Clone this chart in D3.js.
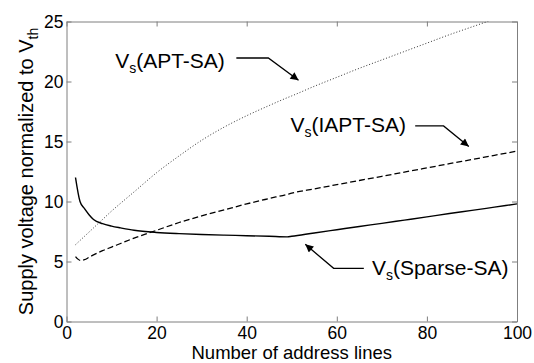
<!DOCTYPE html>
<html>
<head>
<meta charset="utf-8">
<script src="https://cdn.jsdelivr.net/npm/d3@7"></script>
<style>
  body { margin: 0; background: #fff; }
  svg { display: block; font-family: "Liberation Sans", Arial, sans-serif; }
</style>
</head>
<body>
<div id="chart"></div>
<script>
// number of address lines (x) and the three supply voltage curves
var addrLines = [2, 3, 4, 5, 6, 8, 10, 12, 15, 20, 25, 30, 35, 40, 45, 49, 50, 55, 60, 65, 70, 75, 80, 85, 90, 95, 100]
var vsAPT     = [6.4, 6.75, 7.1, 7.45, 7.8, 8.5, 9.2, 9.85, 10.8, 12.4, 13.8, 15.1, 16.2, 17.15, 18.0, 18.65, 18.8, 19.6, 20.35, 21.1, 21.8, 22.5, 23.2, 23.9, 24.55, 25.2, 25.85]
var vsIAPT    = [5.4, 5.1, 5.15, 5.35, 5.55, 5.9, 6.2, 6.5, 6.95, 7.6, 8.25, 8.8, 9.3, 9.8, 10.25, 10.6, 10.7, 11.05, 11.4, 11.75, 12.1, 12.45, 12.8, 13.15, 13.5, 13.85, 14.2]
var vsSparse  = [12.0, 10.0, 9.4, 8.9, 8.5, 8.15, 7.95, 7.8, 7.6, 7.42, 7.32, 7.25, 7.2, 7.15, 7.1, 7.05, 7.1, 7.38, 7.65, 7.92, 8.18, 8.45, 8.72, 9.0, 9.26, 9.53, 9.8]

var xTicks = [0, 20, 40, 60, 80, 100]
var yTicks = [0, 5, 10, 15, 20, 25]

// annotation text + arrow path, in data units
var labelNames = ["APT-SA", "IAPT-SA", "Sparse-SA"]
var labelAt    = [[10.8, 21.1], [49.7, 15.8], [67.8, 3.88]]
var arrowPts   = [
    [[37.7, 21.96], [44.8, 21.96], [51.5, 20.1]],
    [[77.4, 16.3], [83.7, 16.3], [89.3, 14.58]],
    [[66.0, 4.43], [59.3, 4.43], [53.0, 6.43]]
]

var W = 534, H = 363
var margin = {top: 21.5, right: 17, bottom: 41.5, left: 66.5}

var svg = d3.select("#chart")
    .append("svg")
    .attr("width", W)
    .attr("height", H)

var x = d3.scaleLinear()
    .domain([0, 100])
    .range([margin.left, W - margin.right])

var y = d3.scaleLinear()
    .domain([0, 25])
    .range([H - margin.bottom, margin.top])

svg.append("defs").append("clipPath")
    .attr("id", "plotclip")
    .append("rect")
    .attr("x", x(0))
    .attr("y", y(25))
    .attr("width", x(100) - x(0))
    .attr("height", y(0) - y(25))

svg.append("defs").append("marker")
    .attr("id", "arrowhead")
    .attr("viewBox", "0 0 10 10")
    .attr("refX", 10)
    .attr("refY", 5)
    .attr("markerWidth", 10)
    .attr("markerHeight", 8)
    .attr("markerUnits", "userSpaceOnUse")
    .attr("orient", "auto")
    .append("path")
    .attr("d", "M0,0 L10,5 L0,10 Z")
    .attr("fill", "black")

// axes: ticks point inward, box on all four sides
var axisColor = "#7f7f7f"

function styleAxis(g) {
    g.selectAll(".domain").attr("stroke", axisColor)
    g.selectAll(".tick line").attr("stroke", axisColor)
    g.selectAll(".tick text")
        .attr("fill", "black")
        .style("font-size", "17.5px")
        .style("font-family", "'Liberation Sans', Arial, sans-serif")
}

svg.append("g")
    .attr("transform", "translate(0," + y(0) + ")")
    .call(d3.axisBottom(x).tickValues(xTicks).tickSizeInner(-5).tickSizeOuter(0).tickPadding(5))
    .call(styleAxis)

svg.append("g")
    .attr("transform", "translate(0," + y(25) + ")")
    .call(d3.axisTop(x).tickValues(xTicks).tickSizeInner(-5).tickSizeOuter(0).tickFormat(""))
    .call(styleAxis)

svg.append("g")
    .attr("transform", "translate(" + x(0) + ",0)")
    .call(d3.axisLeft(y).tickValues(yTicks).tickSizeInner(-5).tickSizeOuter(0).tickPadding(3))
    .call(styleAxis)

svg.append("g")
    .attr("transform", "translate(" + x(100) + ",0)")
    .call(d3.axisRight(y).tickValues(yTicks).tickSizeInner(-5).tickSizeOuter(0).tickFormat(""))
    .call(styleAxis)

// curves
var line = d3.line()
    .x(d => x(d[0]))
    .y(d => y(d[1]))
    .curve(d3.curveMonotoneX)

var series = [
    {vals: vsAPT,    dash: "1,2", width: 1,   color: "#333"},
    {vals: vsIAPT,   dash: "6,3", width: 1.3, color: "black"},
    {vals: vsSparse, dash: null,  width: 1.4, color: "black"}
]

var plot = svg.append("g").attr("clip-path", "url(#plotclip)")

for (s of series) {
    plot.append("path")
        .datum(addrLines.map((a, i) => [a, s.vals[i]]))
        .attr("d", line)
        .attr("fill", "none")
        .attr("stroke", s.color)
        .attr("stroke-width", s.width)
        .attr("stroke-dasharray", s.dash)
}

// annotations
var arrowLine = d3.line().x(d => x(d[0])).y(d => y(d[1]))

for (i in labelNames) {
    svg.append("path")
        .attr("d", arrowLine(arrowPts[i]))
        .attr("fill", "none")
        .attr("stroke", "black")
        .attr("stroke-width", 1.3)
        .attr("marker-end", "url(#arrowhead)")

    var t = svg.append("text")
        .attr("x", x(labelAt[i][0]))
        .attr("y", y(labelAt[i][1]))
        .style("font-size", "21px")
    t.append("tspan").text("V")
    t.append("tspan").text("s").style("font-size", "14px").attr("dy", 5)
    t.append("tspan").text("(" + labelNames[i] + ")").attr("dy", -5)
}

// axis titles
svg.append("text")
    .attr("x", (x(0) + x(100)) / 2)
    .attr("y", 359.2)
    .attr("text-anchor", "middle")
    .style("font-size", "18.5px")
    .text("Number of address lines")

var yl = svg.append("text")
    .attr("transform", "translate(33," + ((y(0) + y(25)) / 2) + ") rotate(-90)")
    .attr("text-anchor", "middle")
    .style("font-size", "20px")
yl.append("tspan").text("Supply voltage normalized to V")
yl.append("tspan").text("th").style("font-size", "14px").attr("dy", 5)
</script>
</body>
</html>
